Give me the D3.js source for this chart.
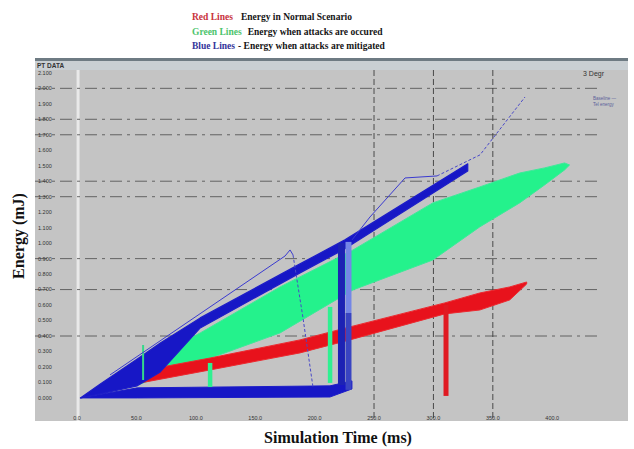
<!DOCTYPE html>
<html><head><meta charset="utf-8">
<script src="https://cdn.jsdelivr.net/npm/d3@7"></script>
<style>body{margin:0;background:#fff}svg{display:block}</style>
</head><body>
<svg id="chart" width="634" height="449"></svg>
<script>
// Axis ticks
const timeTicks = [0, 50, 100, 150, 200, 250, 300, 350, 400];
const energyTicks = [0, 0.1, 0.2, 0.3, 0.4, 0.5, 0.6, 0.7, 0.8, 0.9, 1.0, 1.1, 1.2, 1.3, 1.4, 1.5, 1.6, 1.7, 1.8, 1.9, 2.0, 2.1];
const gridEnergy = [0.4, 0.7, 0.9, 1.3, 1.4, 1.7, 1.8, 2.0];
const gridTime = [250, 300, 350];

// Green: energy when attacks occur (spread of runs)
const greenTime = [23.8, 53.3, 103.7, 170.9, 232.3, 299.5, 339.0, 372.6, 393.6, 410.4, 414.6];
const greenHigh = [0.052, 0.213, 0.420, 0.717, 0.956, 1.260, 1.363, 1.453, 1.486, 1.518, 1.505];
const greenLow  = [0.052, 0.090, 0.233, 0.420, 0.698, 0.891, 1.105, 1.260, 1.376, 1.473, 1.505];

// Red: energy in the normal scenario
const redTime = [28.1, 53.3, 112.1, 187.7, 229.7, 309.6, 339.0, 364.2, 378.5];
const redHigh = [0.078, 0.174, 0.258, 0.375, 0.459, 0.614, 0.678, 0.717, 0.749];
const redLow  = [0.065, 0.097, 0.181, 0.291, 0.375, 0.543, 0.568, 0.633, 0.736];

// Blue: energy when attacks are mitigated
const blueTime = [2.8, 19.6, 50.7, 70.1, 103.7, 187.7, 225.5, 328.9];
const blueHigh = [0, 0.090, 0.252, 0.355, 0.517, 0.866, 1.021, 1.512];
const blueLow  = [0, 0.026, 0.078, 0.168, 0.452, 0.808, 0.963, 1.466];

const blueBaseTime = [2.8, 50.7, 212.9, 231.4];
const blueBaseHigh = [0, 0.065, 0.078, 0.110];
const blueBaseLow  = [0, 0, 0.006, 0.058];

// Drops: [time, energy top, energy bottom]
const redDrops   = [[310.6, 0.601, 0.013]];
const greenDrops = [[55.6, 0.342, 0.116], [112.0, 0.226, 0.071], [213.0, 0.588, 0.097]];
const blueDrops  = [[222.6, 1.001, 0.084]];
const blueDropsLight = [[228.5, 1.008, 0.549]];
const blueDropsMid   = [[228.5, 0.549, 0.052]];

// Single mitigated runs (thin traces)
const traceATime = [27.8, 175.1, 179.3, 181.8];
const traceAEnergy = [0.149, 0.917, 0.956, 0.924];
const traceADashTime = [181.8, 190.2, 198.7];
const traceADashEnergy = [0.924, 0.517, 0.065];
const traceBTime = [231.5, 246.6, 276.1, 303.0];
const traceBEnergy = [1.021, 1.169, 1.421, 1.434];
const traceBDashTime = [303.0, 339.2, 377.1];
const traceBDashEnergy = [1.434, 1.570, 1.944];

const svg = d3.select("#chart");
const x = d3.scaleLinear().domain([-35.4, 463.8]).range([35, 628]);
const y = d3.scaleLinear().domain([-0.149, 2.183]).range([421, 60]);
const [x0, x1] = x.range();
const [yb, yt] = y.range();

// plot background
svg.append("rect").attr("x", x0).attr("y", yt).attr("width", x1 - x0).attr("height", yb - yt).attr("fill", "#c4c4c4");
svg.append("rect").attr("x", x0).attr("y", yt - 2).attr("width", x1 - x0).attr("height", 3).attr("fill", "#6e7b83");
svg.append("rect").attr("x", x0).attr("y", yt + 1).attr("width", x1 - x0).attr("height", 9).attr("fill", "#c9cfd3");
svg.append("text").attr("x", x0 + 2).attr("y", yt + 7.5).attr("font-family", "Liberation Sans, sans-serif")
  .attr("font-size", 6.5).attr("font-weight", "bold").attr("fill", "#333").text("PT DATA");
svg.append("text").attr("x", 583).attr("y", 76).attr("font-family", "Liberation Sans, sans-serif")
  .attr("font-size", 7).attr("fill", "#333").text("3 Degr");
svg.append("text").attr("x", 593).attr("y", 100).attr("font-family", "Liberation Sans, sans-serif")
  .attr("font-size", 4.5).attr("fill", "#5a5f9a").text("Baseline —");
svg.append("text").attr("x", 593).attr("y", 106).attr("font-family", "Liberation Sans, sans-serif")
  .attr("font-size", 4.5).attr("fill", "#5a5f9a").text("Tel energy");

// zero-time marker
svg.append("line").attr("x1", x(0) + 1).attr("x2", x(0) + 1).attr("y1", yt + 10).attr("y2", yb)
  .attr("stroke", "#e9e9e9").attr("stroke-width", 3);

// grid
svg.append("g").selectAll("line").data(gridEnergy).join("line")
  .attr("x1", x0).attr("x2", 600).attr("y1", d => y(d)).attr("y2", d => y(d))
  .attr("stroke", "#4a4a4a").attr("stroke-width", 0.8).attr("stroke-dasharray", "12,5,3,5");
svg.append("g").selectAll("line").data(gridTime).join("line")
  .attr("x1", d => x(d)).attr("x2", d => x(d)).attr("y1", yt + 10).attr("y2", yb)
  .attr("stroke", "#3c3c3c").attr("stroke-width", 0.9).attr("stroke-dasharray", "6,3");

// tick labels
svg.append("g").selectAll("text").data(energyTicks).join("text")
  .attr("x", 38).attr("y", d => y(d)).attr("dy", "0.35em")
  .attr("font-family", "Liberation Sans, sans-serif").attr("font-size", 5.5).attr("fill", "#333")
  .text(d => d3.format(".3f")(d));
svg.append("g").selectAll("text").data(timeTicks).join("text")
  .attr("x", d => x(d)).attr("y", 420).attr("text-anchor", "middle")
  .attr("font-family", "Liberation Sans, sans-serif").attr("font-size", 5.5).attr("fill", "#333")
  .text(d => d3.format(".1f")(d));

const band = d3.area().x(d => x(d[0])).y0(d => y(d[1])).y1(d => y(d[2]));
const line = d3.line().x(d => x(d[0])).y(d => y(d[1]));

// green band
svg.append("path").datum(d3.zip(greenTime, greenLow, greenHigh)).attr("d", band)
  .attr("fill", "#24f28c").attr("stroke", "#3ee99a").attr("stroke-width", 1);
// red band
svg.append("path").datum(d3.zip(redTime, redLow, redHigh)).attr("d", band)
  .attr("fill", "#e8121c").attr("stroke", "#ec2a30").attr("stroke-width", 1);
// blue mitigated bands
svg.append("path").datum(d3.zip(blueTime, blueLow, blueHigh)).attr("d", band)
  .attr("fill", "#1717c6").attr("stroke", "#1d1dc8").attr("stroke-width", 1.2).attr("stroke-linejoin", "round");
svg.append("path").datum(d3.zip(blueBaseTime, blueBaseLow, blueBaseHigh)).attr("d", band)
  .attr("fill", "#1717c6").attr("stroke", "#1d1dc8").attr("stroke-width", 1);

function drops(data, color, width) {
  svg.append("g").selectAll("line").data(data).join("line")
    .attr("x1", d => x(d[0])).attr("x2", d => x(d[0]))
    .attr("y1", d => y(d[1])).attr("y2", d => y(d[2]))
    .attr("stroke", color).attr("stroke-width", width);
}
drops(redDrops, "#e01a22", 5);
drops(greenDrops.slice(0, 1), "#35d98a", 2);
drops(greenDrops.slice(1), "#2ff091", 4.5);
drops(blueDrops, "#1c22b4", 7);
drops(blueDropsLight, "#7486e6", 6);
drops(blueDropsMid, "#3944c2", 6);

// thin traces
svg.append("path").datum(d3.zip(traceATime, traceAEnergy)).attr("d", line)
  .attr("fill", "none").attr("stroke", "#3a3ad0").attr("stroke-width", 1);
svg.append("path").datum(d3.zip(traceADashTime, traceADashEnergy)).attr("d", line)
  .attr("fill", "none").attr("stroke", "#4848c8").attr("stroke-width", 1).attr("stroke-dasharray", "3,2");
svg.append("path").datum(d3.zip(traceBTime, traceBEnergy)).attr("d", line)
  .attr("fill", "none").attr("stroke", "#3a3ad0").attr("stroke-width", 1);
svg.append("path").datum(d3.zip(traceBDashTime, traceBDashEnergy)).attr("d", line)
  .attr("fill", "none").attr("stroke", "#4848c8").attr("stroke-width", 1).attr("stroke-dasharray", "3,2");

// axis titles
svg.append("text").attr("transform", "translate(24,236) rotate(-90)").attr("text-anchor", "middle")
  .attr("font-family", "Liberation Serif, serif").attr("font-weight", "bold").attr("font-size", 16)
  .attr("fill", "#111").text("Energy (mJ)");
svg.append("text").attr("x", 338).attr("y", 443).attr("text-anchor", "middle")
  .attr("font-family", "Liberation Serif, serif").attr("font-weight", "bold").attr("font-size", 16)
  .attr("fill", "#111").text("Simulation Time (ms)");

// legend heading
const legendRows = [
  {label: "Red Lines", color: "#c8323c", text: "Energy in Normal Scenario", gap: 8},
  {label: "Green Lines", color: "#4cc46c", text: "Energy when attacks are occured", gap: 6},
  {label: "Blue Lines", color: "#34349a", text: "- Energy when attacks are mitigated", gap: 3}
];
legendRows.forEach((r, i) => {
  const t = svg.append("text").attr("x", 192).attr("y", 20 + i * 14.5)
    .attr("font-family", "Liberation Serif, serif").attr("font-weight", "bold").attr("font-size", 9.5);
  t.append("tspan").attr("fill", r.color).text(r.label);
  t.append("tspan").attr("dx", r.gap).attr("fill", "#151515").text(r.text);
});
</script>
</body></html>
